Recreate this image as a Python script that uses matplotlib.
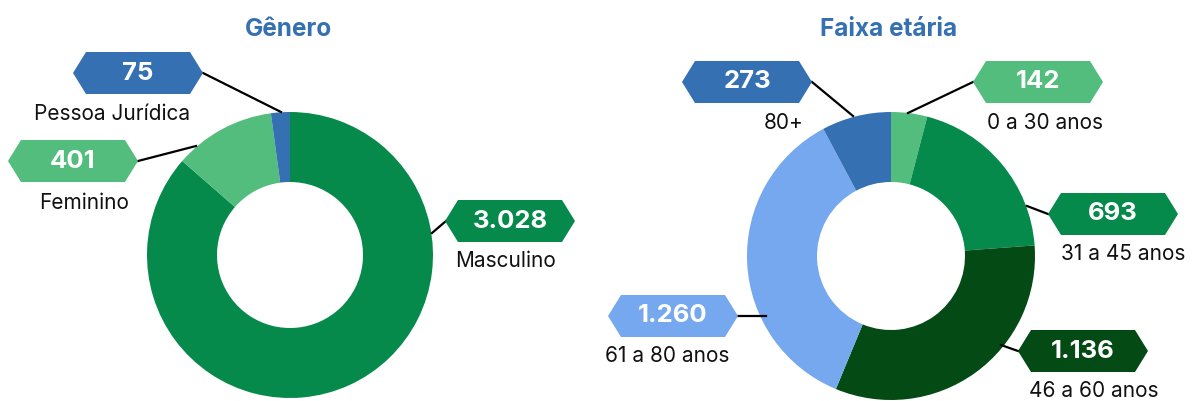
import matplotlib.pyplot as plt
from matplotlib.patches import Polygon

plt.rcParams['font.family'] = ['Inter', 'DejaVu Sans']

# dados
genero_nomes = ['Masculino', 'Feminino', 'Pessoa Jurídica']
genero_vals = [3028, 401, 75]
genero_txt = ['3.028', '401', '75']
genero_cores = ['#068A4B', '#52BD7D', '#3570B3']

idade_nomes = ['0 a 30 anos', '31 a 45 anos', '46 a 60 anos', '61 a 80 anos', '80+']
idade_vals = [142, 693, 1136, 1260, 273]
idade_txt = ['142', '693', '1.136', '1.260', '273']
idade_cores = ['#52BD7D', '#068A4B', '#034A15', '#75A8EE', '#3570B3']

W, H = 1195, 401
fig = plt.figure(figsize=(W / 100, H / 100), dpi=100)
ax = fig.add_axes([0, 0, 1, 1])

def Y(y):
    return H - y

ax.pie(genero_vals, colors=genero_cores, startangle=90, counterclock=False,
       center=(290, Y(255)), radius=143, wedgeprops=dict(width=70, linewidth=0))
ax.pie(idade_vals, colors=idade_cores, startangle=90, counterclock=False,
       center=(891, Y(256)), radius=144, wedgeprops=dict(width=70, linewidth=0))

ax.set_xlim(0, W)
ax.set_ylim(0, H)
ax.set_aspect('equal')
ax.axis('off')

azul = '#3570B3'
ax.text(289, Y(29), 'Gênero', ha='center', va='center', fontsize=17.5,
        fontweight='bold', color=azul)
ax.text(889, Y(29), 'Faixa etária', ha='center', va='center', fontsize=17.5,
        fontweight='bold', color=azul)

def etiqueta(cx, cy, txt, nome, nx, ny, cor, linha):
    w, h, p = 130, 42, 13
    x0, x1 = cx - w / 2, cx + w / 2
    pts = [(x0, cy), (x0 + p, cy - h / 2), (x1 - p, cy - h / 2), (x1, cy),
           (x1 - p, cy + h / 2), (x0 + p, cy + h / 2)]
    ax.plot([linha[0][0], linha[1][0]], [Y(linha[0][1]), Y(linha[1][1])],
            color='black', lw=1.6, zorder=3)
    ax.add_patch(Polygon([(a, Y(b)) for a, b in pts], closed=True,
                         facecolor=cor, edgecolor='none', zorder=4))
    ax.text(cx, Y(cy), txt, ha='center', va='center', fontsize=18.5,
            fontweight='bold', color='white', zorder=5)
    ax.text(nx, Y(ny), nome, ha='center', va='center', fontsize=15,
            color='#111111', zorder=5)

# genero
etiqueta(510, 221, genero_txt[0], genero_nomes[0], 506, 261, genero_cores[0],
         [(446, 221), (432, 233)])
etiqueta(73, 161, genero_txt[1], genero_nomes[1], 84, 203, genero_cores[1],
         [(138, 161), (196, 146)])
etiqueta(138, 73, genero_txt[2], genero_nomes[2], 112, 114, genero_cores[2],
         [(203, 73), (281, 112)])

# faixa etaria
etiqueta(1038, 82, idade_txt[0], idade_nomes[0], 1045, 123, idade_cores[0],
         [(973, 82), (908, 113)])
etiqueta(1113, 214, idade_txt[1], idade_nomes[1], 1123, 254, idade_cores[1],
         [(1048, 214), (1027, 206)])
etiqueta(1083, 351, idade_txt[2], idade_nomes[2], 1094, 391, idade_cores[2],
         [(1018, 351), (1001, 345)])
etiqueta(673, 316, idade_txt[3], idade_nomes[3], 667, 356, idade_cores[3],
         [(738, 316), (766, 316)])
etiqueta(747, 82, idade_txt[4], idade_nomes[4], 784, 123, idade_cores[4],
         [(812, 82), (853, 116)])

fig.savefig('out.png', dpi=100)
